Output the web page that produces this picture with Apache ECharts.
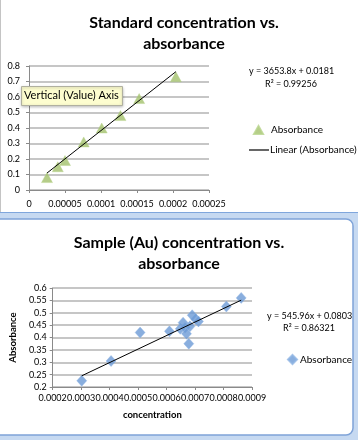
<!DOCTYPE html>
<html><head><meta charset="utf-8">
<script src="https://cdn.jsdelivr.net/npm/echarts@6/dist/echarts.min.js"></script>
<style>html,body{margin:0;padding:0;background:#fff}#c{width:358px;height:440px}</style>
</head><body><div id="c"></div>
<script>
// ---- Standard curve data ----
const stdConc = [0.000025, 0.00004, 0.00005, 0.000076, 0.000101, 0.000127, 0.000153, 0.000204];
const stdAbs  = [0.08, 0.15, 0.19, 0.31, 0.40, 0.48, 0.59, 0.73];
const stdSlope = 3653.8, stdIntercept = 0.0181;
const stdXTicks = ['0', '0.00005', '0.0001', '0.00015', '0.0002', '0.00025'];
const stdYTicks = ['0', '0.1', '0.2', '0.3', '0.4', '0.5', '0.6', '0.7', '0.8'];
const stdEquation = ['y = 3653.8x + 0.0181', 'R² = 0.99256'];

// ---- Sample (Au) data ----
const auConc = [0.000302, 0.000405, 0.000507, 0.00061, 0.000648, 0.000658, 0.000665, 0.00067, 0.000678, 0.000682, 0.00069, 0.000702, 0.000712, 0.00081, 0.000862];
const auAbs  = [0.225, 0.305, 0.42, 0.425, 0.435, 0.46, 0.44, 0.415, 0.375, 0.445, 0.49, 0.475, 0.465, 0.525, 0.56];
const auSlope = 545.96, auIntercept = 0.0803;
const auXTicks = ['0.0002', '0.0003', '0.0004', '0.0005', '0.0006', '0.0007', '0.0008', '0.0009'];
const auYTicks = ['0.2', '0.25', '0.3', '0.35', '0.4', '0.45', '0.5', '0.55', '0.6'];
const auEquation = ['y = 545.96x + 0.0803', 'R² = 0.86321'];

const FONT = 'Lato';
const pairs = (xs, ys) => xs.map((x, i) => [x, ys[i]]);
const fit = (xs, m, b) => {
  const lo = Math.min(...xs), hi = Math.max(...xs);
  return [[lo, m * lo + b], [hi, m * hi + b]];
};

const chart = echarts.init(document.getElementById('c'), null, {renderer: 'canvas'});
const axisLbl = (ticks, extra) => Object.assign({
  color: '#000', fontFamily: FONT, fontSize: 9,
  formatter: (v, i) => ticks[i], showMinLabel: true, showMaxLabel: true, hideOverlap: false
}, extra || {});
const axisLine = {lineStyle: {color: '#8a8a8a', width: 1}};
const split = {show: true, lineStyle: {color: '#c6c6c6', width: 2}};
const legendText = {fontFamily: FONT, fontSize: 10, color: '#000'};

chart.setOption({
  animation: false,
  textStyle: {fontFamily: FONT},
  title: [
    {text: 'Standard concentration vs.\nabsorbance', left: 179, top: 7, textAlign: 'center',
     textStyle: {fontFamily: FONT, fontSize: 16, fontWeight: 'bold', color: '#000', lineHeight: 21}},
    {text: 'Sample (Au) concentration vs.\nabsorbance', left: 174, top: 227, textAlign: 'center',
     textStyle: {fontFamily: FONT, fontSize: 16, fontWeight: 'bold', color: '#000', lineHeight: 21}}
  ],
  grid: [
    {left: 29, top: 66, width: 180, height: 124},
    {left: 50, top: 288, width: 202, height: 99}
  ],
  xAxis: [
    {gridIndex: 0, type: 'value', min: 0, max: 0.00025, interval: 0.00005,
     axisLine: Object.assign({show: true, onZero: false}, axisLine),
     axisTick: {show: true, length: 3, lineStyle: {color: '#8a8a8a'}},
     splitLine: {show: false}, axisLabel: axisLbl(stdXTicks, {margin: 10})},
    {gridIndex: 1, type: 'value', min: 0.0002, max: 0.0009, interval: 0.0001,
     axisLine: Object.assign({show: true, onZero: false}, axisLine),
     axisTick: {show: true, length: 3, lineStyle: {color: '#8a8a8a'}},
     splitLine: {show: false}, axisLabel: axisLbl(auXTicks, {margin: 7}),
     name: 'concentration', nameLocation: 'middle', nameGap: 23,
     nameTextStyle: {fontFamily: FONT, fontSize: 9.5, fontWeight: 'bold', color: '#000'}}
  ],
  yAxis: [
    {gridIndex: 0, type: 'value', min: 0, max: 0.8, interval: 0.1,
     axisLine: Object.assign({show: true}, axisLine),
     axisTick: {show: true, length: 3, lineStyle: {color: '#8a8a8a'}},
     splitLine: split, axisLabel: axisLbl(stdYTicks, {margin: 9})},
    {gridIndex: 1, type: 'value', min: 0.2, max: 0.6, interval: 0.05,
     axisLine: Object.assign({show: true}, axisLine),
     axisTick: {show: true, length: 3, lineStyle: {color: '#8a8a8a'}},
     splitLine: split, axisLabel: axisLbl(auYTicks, {margin: 6}),
     name: 'Absorbance', nameLocation: 'middle', nameGap: 26, nameRotate: 90,
     nameTextStyle: {fontFamily: FONT, fontSize: 9.5, fontWeight: 'bold', color: '#000'}}
  ],
  legend: [
    {left: 248, top: 120, itemWidth: 9, itemHeight: 8,
     data: [{name: 'Absorbance', icon: 'triangle'}],
     textStyle: Object.assign({padding: [0, 0, 0, 3]}, legendText)},
    {left: 244, top: 140, itemWidth: 20, itemHeight: 1.2,
     data: [{name: 'Linear (Absorbance)', icon: 'rect'}],
     textStyle: Object.assign({padding: [0, 0, 0, -4]}, legendText)},
    {left: 282, top: 349, itemWidth: 9, itemHeight: 9,
     data: [{name: 'Absorbance (Au)', icon: 'diamond'}],
     formatter: () => 'Absorbance',
     textStyle: Object.assign({padding: [0, 0, 0, -2]}, legendText)}
  ],
  series: [
    {name: 'Absorbance', type: 'scatter', xAxisIndex: 0, yAxisIndex: 0,
     symbol: 'triangle', symbolSize: [11, 10], data: pairs(stdConc, stdAbs),
     itemStyle: {color: '#a3c16b', borderColor: '#b7d38a', borderWidth: 0.5}, z: 3},
    {name: 'Linear (Absorbance)', type: 'line', xAxisIndex: 0, yAxisIndex: 0,
     data: fit(stdConc, stdSlope, stdIntercept), symbol: 'none',
     lineStyle: {color: '#000', width: 1}, itemStyle: {color: '#000'}, z: 4},
    {name: 'Absorbance (Au)', type: 'scatter', xAxisIndex: 1, yAxisIndex: 1,
     symbol: 'diamond', symbolSize: [10, 11], data: pairs(auConc, auAbs),
     itemStyle: {color: '#6c9ad6', borderColor: '#8fb4e4', borderWidth: 0.5}, z: 3},
    {name: 'Linear (Au)', type: 'line', xAxisIndex: 1, yAxisIndex: 1,
     data: fit(auConc, auSlope, auIntercept), symbol: 'none',
     lineStyle: {color: '#000', width: 1}, z: 4}
  ],
  graphic: [
    // window background pieces
    {type: 'rect', z: -100, shape: {x: 0, y: 212, width: 358, height: 228}, style: {fill: '#c6d9f1'}},
    {type: 'line', z: -99, shape: {x1: 0, y1: 212.5, x2: 358, y2: 212.5}, style: {stroke: '#7fa6dc', lineWidth: 1}},
    {type: 'rect', z: -98, shape: {x: -10, y: 219, width: 363, height: 216, r: 7},
     style: {fill: '#fff', stroke: '#7fa3d8', lineWidth: 1.5}},
    {type: 'line', z: -97, shape: {x1: 0.5, y1: 0, x2: 0.5, y2: 212}, style: {stroke: '#c4c4c4', lineWidth: 1}},
    // trendline equations
    {type: 'text', left: 249, top: 67, z: 10,
     style: {text: stdEquation[0], font: '9px ' + FONT, fill: '#000'}},
    {type: 'text', left: 265, top: 80, z: 10,
     style: {text: stdEquation[1], font: '9px ' + FONT, fill: '#000'}},
    {type: 'text', left: 267, top: 312, z: 10,
     style: {text: auEquation[0], font: '9px ' + FONT, fill: '#000'}},
    {type: 'text', left: 283, top: 324, z: 10,
     style: {text: auEquation[1], font: '9px ' + FONT, fill: '#000'}},
    // hover tooltip box
    {type: 'rect', z: 100, zlevel: 1, shape: {x: 21.5, y: 86.5, width: 101, height: 19},
     style: {fill: '#fdfdcf', stroke: '#b0b0a0', lineWidth: 1, shadowBlur: 3, shadowColor: 'rgba(0,0,0,0.25)', shadowOffsetY: 1}},
    {type: 'text', z: 101, zlevel: 1, x: 24, y: 90,
     style: {text: 'Vertical (Value) Axis', font: '11px ' + FONT, fill: '#000'}}
  ]
});
</script></body></html>
